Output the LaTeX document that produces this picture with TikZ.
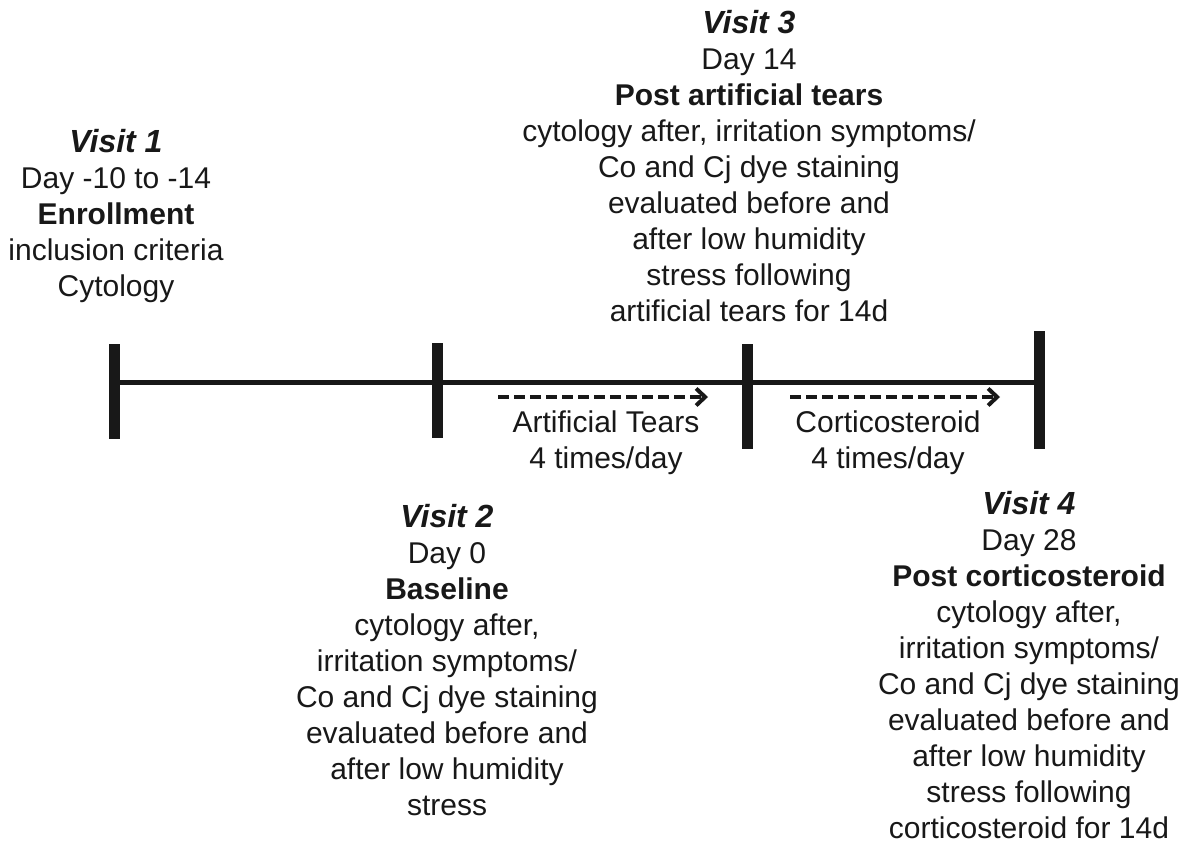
\documentclass[tikz,border=0pt]{standalone}
\usepackage{fontspec}
\setmainfont{Liberation Sans}
\usetikzlibrary{arrows.meta}
\definecolor{ink}{RGB}{24,24,24}
\tikzset{every node/.style={font=\fontsize{30}{36}\selectfont,text=ink,inner sep=0pt}}
\tikzset{visit/.style={align=center,anchor=base},
  timeline/.style={draw=ink,line width=5pt},
  tickbar/.style={draw=ink,line width=11pt},
  period/.style={draw=ink,line width=4pt,dash pattern=on 11pt off 5pt,
    -{Straight Barb[length=9pt,width=17pt]}}}
\newcommand{\visithead}[1]{{\fontsize{32}{36}\selectfont\bfseries\itshape #1}}

\begin{document}
\begin{tikzpicture}[x=1pt,y=-1pt]
  \useasboundingbox (0,0) rectangle (1196,846);
  \coordinate (v1) at ( 114,382);
  \coordinate (v2) at ( 437,382);
  \coordinate (v3) at ( 747,382);
  \coordinate (v4) at (1039,382);
  \draw[timeline] (v1) -- (v4);
  \draw[tickbar] (v1) ++(0,-38) -- ++(0,95);
  \draw[tickbar] (v2) ++(0,-39) -- ++(0,95);
  \draw[tickbar] (v3) ++(0,-38) -- ++(0,105);
  \draw[tickbar] (v4) ++(0,-51) -- ++(0,118);

  \coordinate (tears-start) at (498,397);
  \coordinate (tears-end)   at (708,397);
  \coordinate (cort-start)  at (790,397);
  \coordinate (cort-end)    at (1000,397);
  \draw[period] (tears-start) -- (tears-end);
  \draw[period] (cort-start) -- (cort-end);
  \node[visit] (tears) at (606,468) {Artificial Tears\\4 times/day};
  \node[visit] (cort)  at (888,468) {Corticosteroid\\4 times/day};

  \node[visit] (visit1) at (116,296) {\visithead{Visit 1}\\Day -10 to -14\\\textbf{Enrollment}\\
    inclusion criteria\\Cytology};
  \node[visit] (visit2) at (447,815) {\visithead{Visit 2}\\Day 0\\\textbf{Baseline}\\
    cytology after,\\irritation symptoms/\\Co and Cj dye staining\\evaluated before and\\
    after low humidity\\stress};
  \node[visit] (visit3) at (749,321) {\visithead{Visit 3}\\Day 14\\\textbf{Post artificial tears}\\
    cytology after, irritation symptoms/\\Co and Cj dye staining\\evaluated before and\\
    after low humidity\\stress following\\artificial tears for 14d};
  \node[visit] (visit4) at (1029,838) {\visithead{Visit 4}\\Day 28\\\textbf{Post corticosteroid}\\
    cytology after,\\irritation symptoms/\\Co and Cj dye staining\\evaluated before and\\
    after low humidity\\stress following\\corticosteroid for 14d};
\end{tikzpicture}
\end{document}
